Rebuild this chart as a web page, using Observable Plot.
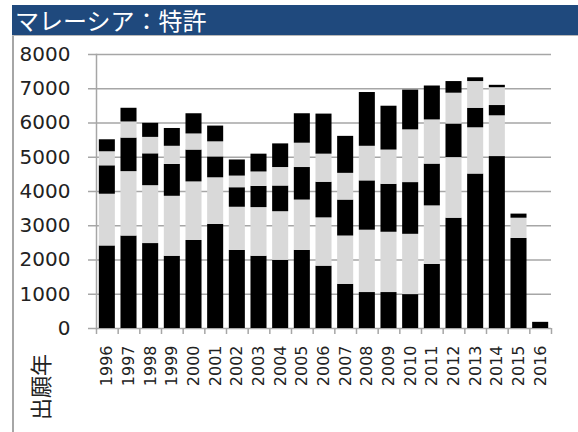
<!DOCTYPE html>
<html><head><meta charset="utf-8">
<script src="https://cdn.jsdelivr.net/npm/d3@7"></script>
<script src="https://cdn.jsdelivr.net/npm/@observablehq/plot@0.6"></script>
<style>
body{margin:0;background:#fff;}
#wrap{position:relative;width:578px;height:432px;overflow:hidden;background:#fff;}
#title{position:absolute;left:12px;top:5px;width:566px;height:31px;background:#1f497d;color:#fff;font-family:"Noto Sans CJK JP";font-size:24px;line-height:30px;padding-left:3px;box-sizing:border-box;border-bottom:1px solid #b8b8b8;white-space:nowrap;}
#frame{position:absolute;left:12px;top:36px;height:396px;border-left:2px solid #a6a6a6;}
#chart{position:absolute;left:0;top:0;}
#xlabel{position:absolute;left:39px;top:387px;transform:translate(-50%,-50%) rotate(-90deg);font-family:"Noto Sans CJK JP";font-size:22px;color:#222;white-space:nowrap;}
</style></head>
<body>
<div id="wrap">
  <div id="chart"></div>
  <div id="frame"></div>
  <div id="title">マレーシア：特許</div>
  <div id="xlabel">出願年</div>
</div>
<script>
const titleText = "マレーシア：特許";
const xAxisLabel = "出願年";
const years = [1996,1997,1998,1999,2000,2001,2002,2003,2004,2005,2006,2007,2008,2009,2010,2011,2012,2013,2014,2015,2016];
const seriesNames = ["区分1","区分2","区分3","区分4","区分5"];
const seriesColors = ["#000000","#d9d9d9","#000000","#d9d9d9","#000000"];
const s1 = [2410,2700,2480,2110,2570,3040,2280,2110,1990,2280,1820,1290,1050,1050,990,1870,3220,4510,5020,2630,180];
const s2 = [1510,1880,1690,1750,1710,1360,1260,1420,1420,1470,1410,1410,1820,1760,1760,1710,1770,1350,1190,590,0];
const s3 = [830,980,930,930,930,610,570,620,750,950,1040,1050,1440,1400,1510,1220,980,570,300,120,0];
const s4 = [410,470,480,530,470,440,340,420,540,710,820,780,1010,1000,1540,1290,900,780,520,0,0];
const s5 = [350,400,410,520,590,460,470,520,690,860,1170,1080,1570,1280,1160,990,340,110,70,0,0];
const yTicks = [0,1000,2000,3000,4000,5000,6000,7000,8000];

const seriesValues = [s1,s2,s3,s4,s5];
const rows = [];
years.forEach((yr, i) => {
  let acc = 0;
  seriesValues.forEach((vals, k) => {
    const v = vals[i];
    rows.push({year: yr, series: seriesNames[k], color: seriesColors[k], y1: acc, y2: acc + v});
    acc += v;
  });
});
const boundaries = years.map(y => y - 0.5).concat([years[years.length-1] + 0.5]);
const half = 0.37;

const plot = Plot.plot({
  width: 578, height: 432,
  marginLeft: 96, marginRight: 27, marginTop: 54, marginBottom: 104,
  style: {fontFamily: "DejaVu Sans", background: "transparent", color: "#222"},
  x: {type: "linear", domain: [boundaries[0], boundaries[boundaries.length-1]]},
  y: {domain: [0, 8000]},
  marks: [
    Plot.gridY({ticks: yTicks, stroke: "#a6a6a6", strokeOpacity: 1, strokeWidth: 1.5}),
    Plot.rect(rows.filter(d => d.y2 > d.y1), {x1: d => d.year - half, x2: d => d.year + half, y1: "y1", y2: "y2", fill: "color"}),
    Plot.frame({anchor: "left", stroke: "#a6a6a6", strokeWidth: 1.5}),
    Plot.axisY({ticks: yTicks, tickSize: 8, tickPadding: 18, tickFormat: d => String(d), stroke: "#a6a6a6", strokeWidth: 1.5, fill: "#222", label: null, fontSize: 20}),
    Plot.axisX({ticks: boundaries, tickSize: 6, tickFormat: () => "", stroke: "#a6a6a6", strokeWidth: 1.5, label: null}),
    Plot.axisX({ticks: years, tickSize: 0, tickPadding: 17, tickRotate: -90, tickFormat: d => String(d), fill: "#222", label: null, fontSize: 16, style: {letterSpacing: "1.8px"}})
  ]
});
document.getElementById("chart").appendChild(plot);
</script>
</body></html>
